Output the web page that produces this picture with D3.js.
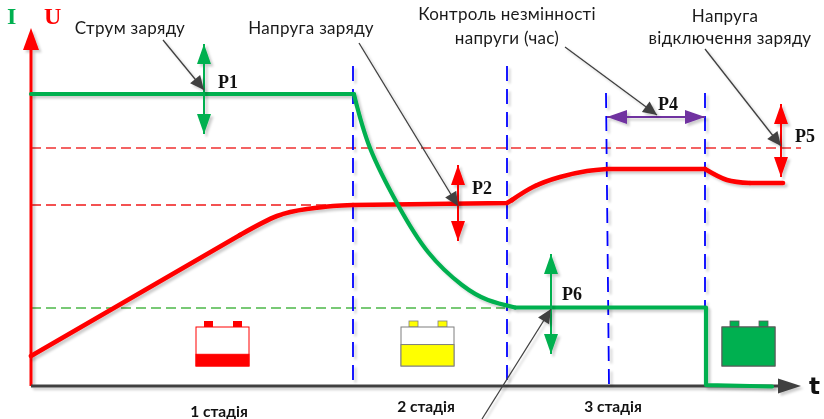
<!DOCTYPE html>
<html>
<head>
<meta charset="utf-8">
<style>
    html, body { margin: 0; padding: 0; background: #fff; }
    svg { display: block; }
    .note { font-family: Lato, sans-serif; font-size: 17px; fill: #1a1a1a; letter-spacing: 0.3px; }
    .stage { font-family: Lato, sans-serif; font-size: 15.5px; font-weight: 700; fill: #111; }
    .param { font-family: "Liberation Serif", serif; font-size: 18px; font-weight: 700; fill: #111; }
</style>
</head>
<body>
<div id="page"></div>
<script src="https://cdn.jsdelivr.net/npm/d3@7"></script>
<script>
// data: t and level are in chart units, origin at the axes corner
const current_flat = [[0, 292], [323, 292]];
const current_fall = [[323, 291.5], [339, 238], [367, 181], [397, 134], [431, 101], [457, 86], [484, 78.5]];
const current_hold = [[484, 78.5], [675, 78.5], [675, 1], [741, -0.5]];

const voltage_ramp = [[0, 30], [209, 151]];
const voltage_knee = [[209, 151], [246, 170], [276, 177], [302, 180], [322, 181]];
const voltage_hold = [[322, 181], [476, 183], [481, 186]];
const voltage_step = [[481, 186], [502, 199], [529, 209], [556, 215], [576, 217]];
const voltage_top = [[576, 217], [674, 217]];
const voltage_drop = [[674, 217], [696, 206], [719, 203]];
const voltage_end = [[719, 203], [752, 203]];

const level_lines = [
    { level: 238, t_end: 770, color: "#f03030" },
    { level: 181, t_end: 322, color: "#f01818" },
    { level: 78, t_end: 474, color: "#4cb848" }
];
const stage_lines = [
    [[322, 320], [322, 0]],
    [[476, 320], [476, 0]],
    [[575, 293], [578, 0]],
    [[674, 293], [674, 79]]
];

const batteries = [
    { t: 165, color: "#ff0000", edge: "#ff0000", charge: 0.3 },
    { t: 370, color: "#ffff00", edge: "#7f7f7f", charge: 0.55 },
    { t: 691, color: "#00b050", edge: "#595959", charge: 1 }
];

const param_arrows = [
    { from: [173, 342], to: [173, 252], color: "#00b050", label: "P1", at: [187, 298] },
    { from: [427, 221], to: [427, 145], color: "#ff0000", label: "P2", at: [441, 192] },
    { from: [576, 269], to: [674, 269], color: "#7030a0", label: "P4", at: [627, 276] },
    { from: [750, 282], to: [750, 209], color: "#ff0000", label: "P5", at: [764, 244] },
    { from: [520, 132], to: [520, 32], color: "#00b050", label: "P6", at: [531, 86] }
];
const leaders = [
    [[132, 346], [173, 296]],
    [[328, 343], [427, 180]],
    [[534, 339], [626, 271]],
    [[674, 337], [750, 240]],
    [[451, -33], [520, 77]]
];

const notes = [
    { text: "Струм заряду", t: 99, level: 352 },
    { text: "Напруга заряду", t: 280, level: 352 },
    { text: "Контроль незмінності", t: 476, level: 366 },
    { text: "напруги (час)", t: 476, level: 342 },
    { text: "Напруга", t: 694, level: 364 },
    { text: "відключення заряду", t: 699, level: 342 }
];
const stages = [
    { text: "1 стадія", t: 188, level: -31 },
    { text: "2 стадія", t: 395, level: -26 },
    { text: "3 стадія", t: 582, level: -26 }
];

// setup
const w = 824;
const h = 419;
const x = d3.scaleLinear().domain([0, 770]).range([31, 801]);
const y = d3.scaleLinear().domain([0, 300]).range([386, 86]);

const svg = d3.select("#page")
    .append("svg")
    .attr("width", w)
    .attr("height", h);

const shadow = svg.append("defs")
    .append("filter")
    .attr("id", "shadow")
    .attr("filterUnits", "userSpaceOnUse")
    .attr("x", 0).attr("y", 0).attr("width", w).attr("height", h);
shadow.append("feDropShadow")
    .attr("dx", 2.5).attr("dy", 2.5)
    .attr("stdDeviation", 1)
    .attr("flood-color", "#000")
    .attr("flood-opacity", 0.2);

const line_smooth = d3.line().x((d) => x(d[0])).y((d) => y(d[1])).curve(d3.curveNatural);
const line_straight = d3.line().x((d) => x(d[0])).y((d) => y(d[1]));

// arrow head drawn around the tip, pointing along the segment
function arrow_head(group, from, to, size_l, size_w, color) {
    const angle = Math.atan2(y(to[1]) - y(from[1]), x(to[0]) - x(from[0])) * 180 / Math.PI;
    group.append("path")
        .attr("d", `M0,0L${-size_l},${-size_w / 2}L${-size_l},${size_w / 2}Z`)
        .attr("fill", color)
        .attr("transform", `translate(${x(to[0])},${y(to[1])}) rotate(${angle})`);
}

// dashed levels
svg.append("g").selectAll("line")
    .data(level_lines)
    .join("line")
    .attr("x1", x(0))
    .attr("x2", (d) => x(d.t_end))
    .attr("y1", (d) => y(d.level))
    .attr("y2", (d) => y(d.level))
    .attr("stroke", (d) => d.color)
    .attr("stroke-width", 1.4)
    .attr("stroke-dasharray", "10 5");

// batteries
const battery_w = 53;
const battery_h = 39;
batteries.forEach((b) => {
    const g = svg.append("g").attr("transform", `translate(${x(b.t)},${y(59)})`);
    [8, 37].forEach((off) => {
        g.append("rect")
            .attr("x", off).attr("y", -6)
            .attr("width", 9).attr("height", 6)
            .attr("fill", b.color)
            .attr("stroke", b.edge === "#ff0000" ? "none" : b.edge)
            .attr("stroke-width", 0.8);
    });
    g.append("rect")
        .attr("width", battery_w).attr("height", battery_h)
        .attr("fill", "#fff")
        .attr("stroke", b.edge)
        .attr("stroke-width", 1);
    g.append("rect")
        .attr("y", battery_h * (1 - b.charge))
        .attr("width", battery_w).attr("height", battery_h * b.charge)
        .attr("fill", b.color)
        .attr("stroke", b.edge)
        .attr("stroke-width", 1);
});

// axes
const axes = svg.append("g").attr("filter", "url(#shadow)");
axes.append("line")
    .attr("x1", x(0)).attr("x2", x(0))
    .attr("y1", y(0)).attr("y2", y(336))
    .attr("stroke", "#ff0000").attr("stroke-width", 3);
arrow_head(axes, [0, 300], [0, 358], 22, 16, "#ff0000");
axes.append("line")
    .attr("x1", x(0)).attr("x2", x(750))
    .attr("y1", y(0)).attr("y2", y(0))
    .attr("stroke", "#404040").attr("stroke-width", 3);
arrow_head(axes, [700, 0], [770, 0], 23, 15, "#404040");

// stage borders
svg.append("g")
    .attr("filter", "url(#shadow)")
    .selectAll("path")
    .data(stage_lines)
    .join("path")
    .attr("d", line_straight)
    .attr("fill", "none")
    .attr("stroke", "#0000ff")
    .attr("stroke-width", 1.8)
    .attr("stroke-dasharray", "15 8");

// voltage and current
const curves = svg.append("g").attr("filter", "url(#shadow)").attr("fill", "none");
[
    [voltage_ramp, line_straight],
    [voltage_knee, line_smooth],
    [voltage_hold, line_straight],
    [voltage_step, line_smooth],
    [voltage_top, line_straight],
    [voltage_drop, line_smooth],
    [voltage_end, line_straight]
].forEach(([seg, gen]) => {
    curves.append("path")
        .attr("d", gen(seg))
        .attr("stroke", "#ff0000")
        .attr("stroke-width", 4.6)
        .attr("stroke-linecap", "round")
        .attr("stroke-linejoin", "round");
});
[
    [current_flat, line_straight],
    [current_fall, line_smooth],
    [current_hold, line_straight]
].forEach(([seg, gen]) => {
    curves.append("path")
        .attr("d", gen(seg))
        .attr("stroke", "#00b050")
        .attr("stroke-width", 4.2)
        .attr("stroke-linecap", "round")
        .attr("stroke-linejoin", "round");
});

// parameter arrows
const params = svg.append("g").attr("filter", "url(#shadow)");
param_arrows.forEach((a) => {
    params.append("line")
        .attr("x1", x(a.from[0])).attr("y1", y(a.from[1]))
        .attr("x2", x(a.to[0])).attr("y2", y(a.to[1]))
        .attr("stroke", a.color).attr("stroke-width", 2);
    arrow_head(params, a.from, a.to, 20, 14, a.color);
    arrow_head(params, a.to, a.from, 20, 14, a.color);
});

// leader lines
const lead = svg.append("g").attr("filter", "url(#shadow)");
leaders.forEach((l) => {
    lead.append("line")
        .attr("x1", x(l[0][0])).attr("y1", y(l[0][1]))
        .attr("x2", x(l[1][0])).attr("y2", y(l[1][1]))
        .attr("stroke", "#404040").attr("stroke-width", 1.3);
    arrow_head(lead, l[0], l[1], 14, 13, "#404040");
});

// texts
svg.append("g").selectAll("text")
    .data(notes)
    .join("text")
    .attr("class", "note")
    .attr("text-anchor", "middle")
    .attr("x", (d) => x(d.t))
    .attr("y", (d) => y(d.level))
    .text((d) => d.text);

svg.append("g").selectAll("text")
    .data(stages)
    .join("text")
    .attr("class", "stage")
    .attr("text-anchor", "middle")
    .attr("x", (d) => x(d.t))
    .attr("y", (d) => y(d.level))
    .text((d) => d.text);

svg.append("g").selectAll("text")
    .data(param_arrows)
    .join("text")
    .attr("class", "param")
    .attr("x", (d) => x(d.at[0]))
    .attr("y", (d) => y(d.at[1]))
    .text((d) => d.label);

// axis names
svg.append("text").attr("x", x(-24)).attr("y", y(362))
    .attr("font-family", "Liberation Serif").attr("font-weight", 700).attr("font-size", 24)
    .attr("fill", "#00b050").text("I");
svg.append("text").attr("x", x(13)).attr("y", y(362))
    .attr("font-family", "Liberation Serif").attr("font-weight", 700).attr("font-size", 24)
    .attr("fill", "#ff0000").text("U");
svg.append("text").attr("x", x(778)).attr("y", y(-8))
    .attr("font-family", "DejaVu Sans").attr("font-weight", 700).attr("font-size", 23)
    .attr("fill", "#111").text("t");
</script>
</body>
</html>
